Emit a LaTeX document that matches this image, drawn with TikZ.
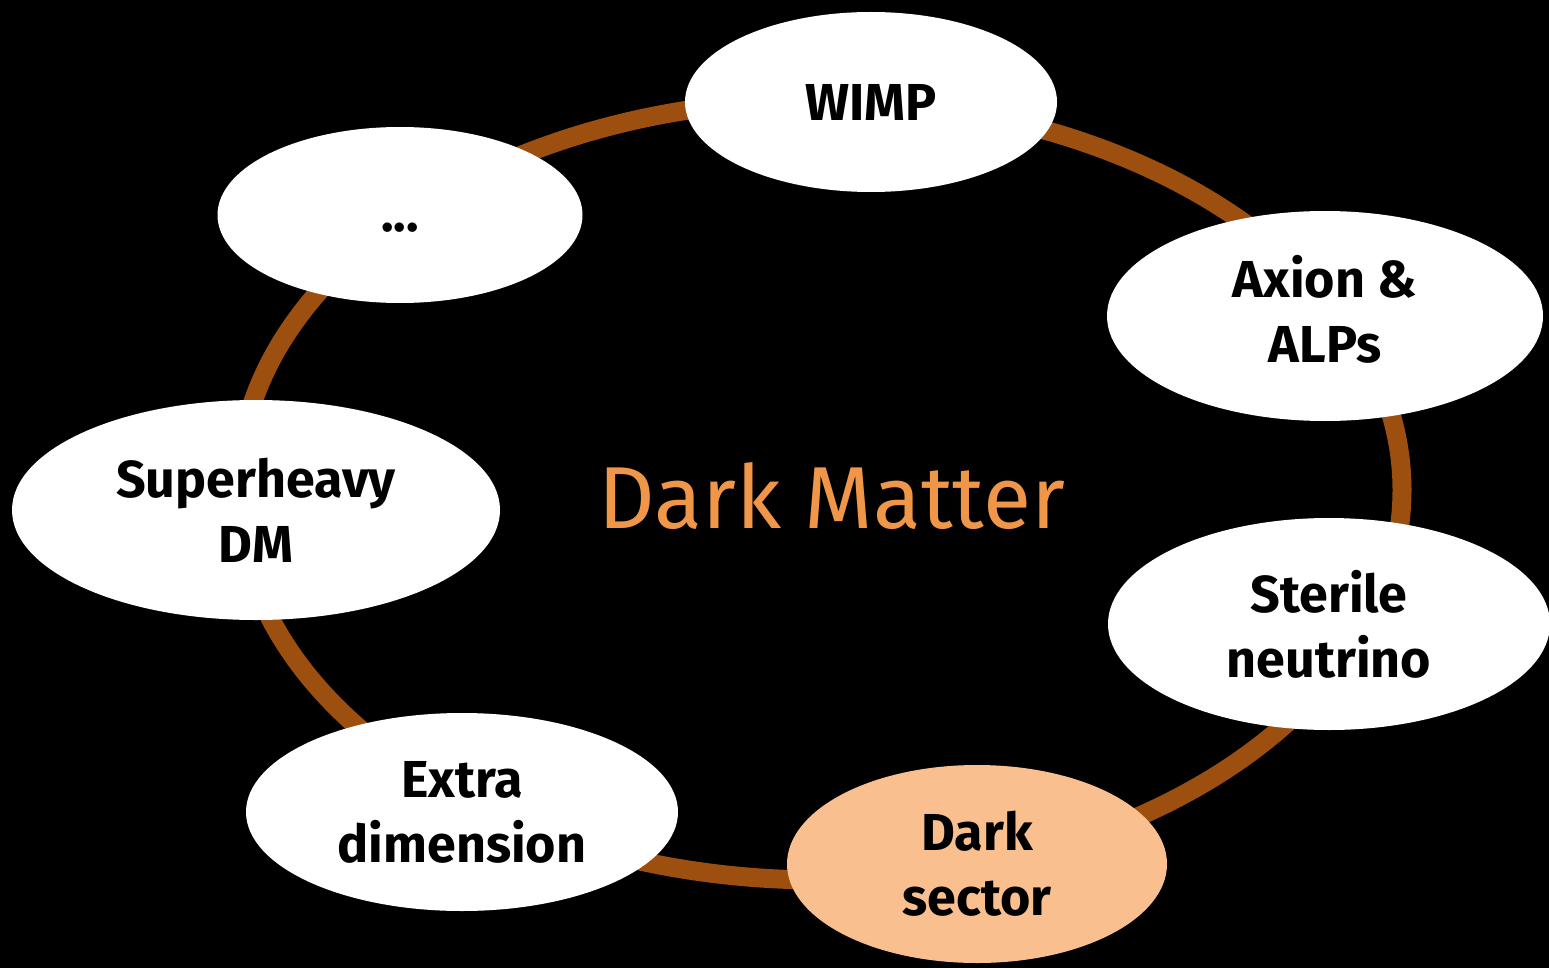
\documentclass[tikz,border=0pt]{standalone}
\usepackage{fontspec}
\setmainfont{Fira Sans}
\usetikzlibrary{shapes.geometric}
\definecolor{ringbrown}{RGB}{156,79,14}
\definecolor{peach}{RGB}{249,191,143}
\definecolor{dmorange}{RGB}{240,150,72}
\tikzset{
  bubble/.style={ellipse, fill=white, draw=none, inner sep=0pt, align=center,
    font=\fontsize{52}{65}\selectfont\bfseries, text=black},
}
\begin{document}
\begin{tikzpicture}[x=1pt,y=-1pt]
\fill[black] (0,0) rectangle (1549,968);
\useasboundingbox (0,0) rectangle (1549,968);
\coordinate (ringc) at (820,490);
\draw[ringbrown, line width=19pt] (ringc) ellipse [x radius=582, y radius=390];
\node[bubble, minimum width=372pt, minimum height=180pt] (wimp) at (871,102) {WIMP};
\node[bubble, minimum width=436pt, minimum height=210pt] (axion) at (1325,316) {Axion \&\\ALPs\rule[-14pt]{0pt}{0pt}};
\node[bubble, minimum width=442pt, minimum height=212pt] (sterile) at (1329,624) {Sterile\\neutrino};
\node[bubble, fill=peach, minimum width=380pt, minimum height=198pt] (dsector) at (977,864) {Dark\\sector};
\node[bubble, minimum width=432pt, minimum height=198pt] (extra) at (462,812) {Extra\\dimension};
\node[bubble, minimum width=488pt, minimum height=220pt] (superh) at (256,510) {Superheavy\\DM};
\node[bubble, minimum width=365pt, minimum height=176pt] (dots) at (400,215) {\rule{0pt}{34pt}...};
\node[text=dmorange, font=\fontsize{88}{100}\selectfont, inner sep=0pt] (dm) at (832,496) {Dark Matter};
\end{tikzpicture}
\end{document}
